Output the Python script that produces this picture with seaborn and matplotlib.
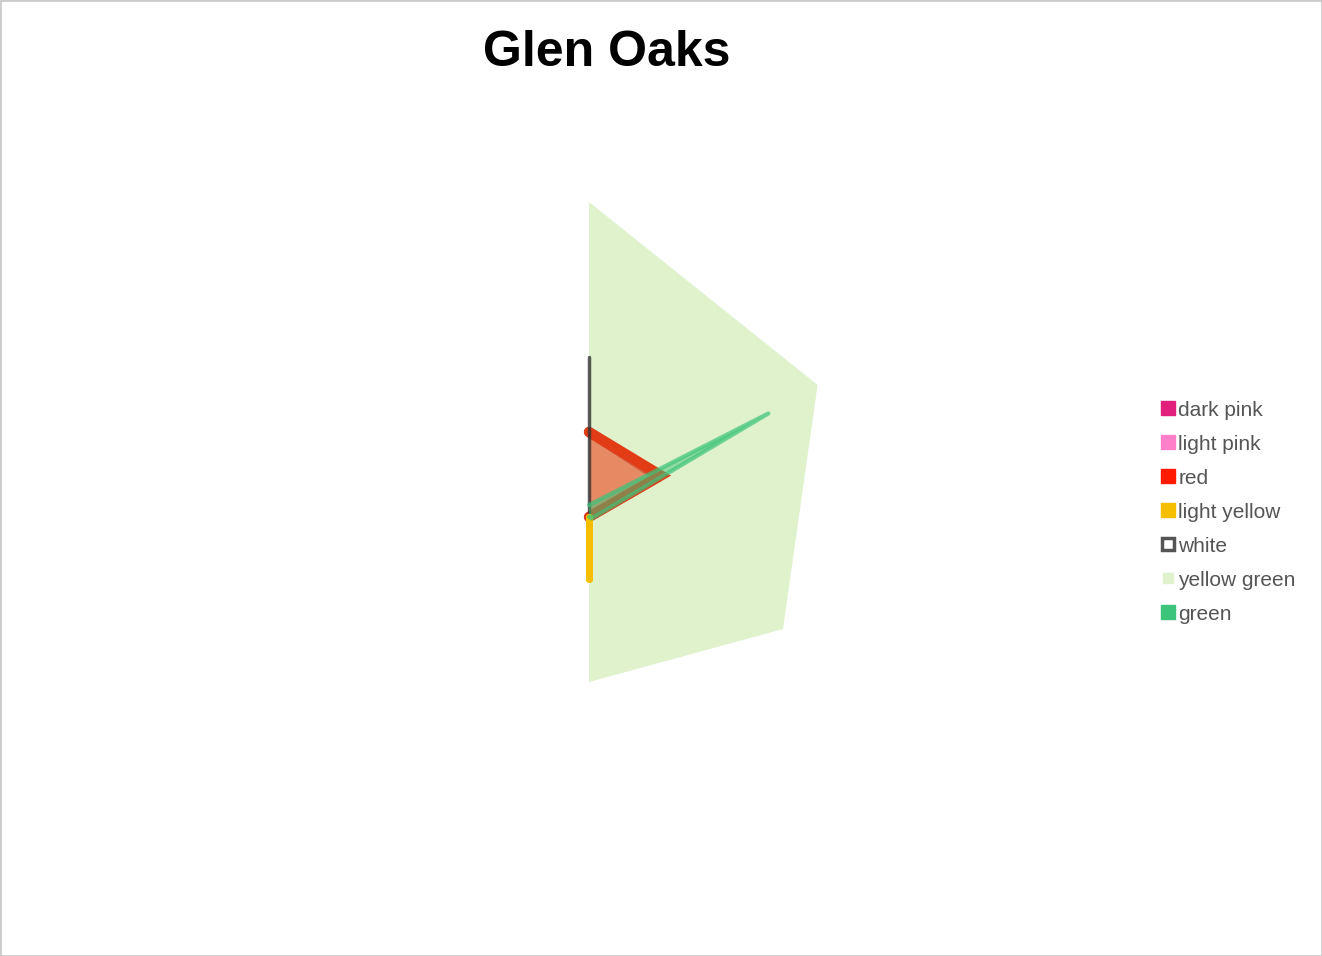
import numpy as np
import matplotlib
matplotlib.use("Agg")
import matplotlib.pyplot as plt
from matplotlib.lines import Line2D
from matplotlib.patches import Rectangle
import seaborn as sns

# --- dados ---
categorias = ["c1", "c2", "c3", "c4", "c5", "c6"]
series = ["dark pink", "light pink", "red", "light yellow", "white", "yellow green", "green"]
dark_pink = [17, 16, 0, 0, 0, 0]
light_pink = [0, 0, 0, 0, 0, 0]
red = [17, 16.6, 0, 0, 0, 0]
light_yellow = [0, 0, 0, 12.4, 0, 0]
white = [32, 0, 0, 0, 0, 0]
yellow_green = [63, 52.8, 44.8, 33, 0, 0]
green = [2.4, 41.4, 0.6, 0, 0, 0]

cores = {
    "dark pink": "#e0207a",
    "light pink": "#ff80c8",
    "red": "#ff1a00",
    "light yellow": "#f5bf00",
    "white": "#555555",
    "yellow green": "#dff2cc",
    "green": "#3cc47a",
}

sns.set_theme(style="white")
plt.rcParams["font.family"] = ["Liberation Sans", "DejaVu Sans"]

fig = plt.figure(figsize=(13.22, 9.56), dpi=100)
ax = fig.add_axes([189 / 1322, 39 / 956, 800 / 1322, 800 / 956], projection="polar")
ax.set_theta_offset(np.pi / 2)
ax.set_theta_direction(-1)

angulos = np.linspace(0, 2 * np.pi, len(categorias), endpoint=False)
ang_fechado = np.concatenate([angulos, angulos[:1]])


def fechar(v):
    return np.concatenate([v, v[:1]])


# fundo: yellow green só preenchimento
ax.fill(ang_fechado, fechar(yellow_green), color=cores["yellow green"], lw=0, zorder=1)

# dark pink / light pink (quase escondidos)
sns.lineplot(x=ang_fechado, y=fechar(dark_pink), sort=False, ax=ax, color="#8a1010", lw=7, zorder=2)
sns.lineplot(x=ang_fechado, y=fechar(light_pink), sort=False, ax=ax, color=cores["light pink"], lw=3, zorder=2)

# red
ax.fill(ang_fechado, fechar(red), color="#e8704a", alpha=0.8, lw=0, zorder=3)
r = sns.lineplot(x=ang_fechado, y=fechar(red), sort=False, ax=ax, color="#e23c17", lw=7.5, zorder=3)
r.lines[-1].set_solid_joinstyle("miter")

# white
sns.lineplot(x=ang_fechado, y=fechar(white), sort=False, ax=ax, color="#333333", lw=2.5, alpha=0.8, zorder=4)

# light yellow
l = sns.lineplot(x=ang_fechado, y=fechar(light_yellow), sort=False, ax=ax, color=cores["light yellow"], lw=5, zorder=4)
l.lines[-1].set_solid_capstyle("round")

# green
ax.fill(ang_fechado, fechar(green), color=cores["green"], alpha=0.5, lw=0, zorder=5)
sns.lineplot(x=ang_fechado, y=fechar(green), sort=False, ax=ax, color=cores["green"], lw=3, alpha=0.7, zorder=5)

ax.set_ylim(0, 80)
ax.set_xticks([])
ax.set_yticks([])
ax.grid(False)
ax.spines["polar"].set_visible(False)
ax.set_facecolor("none")
if ax.get_legend():
    ax.get_legend().remove()

fig.text(607 / 1322, 1 - 53 / 956, "Glen Oaks", ha="center", va="center",
         fontsize=36, fontweight="bold", color="black")

# legenda
handles = []
for s in series:
    if s == "white":
        h = Line2D([], [], ls="", marker="s", markersize=8, markerfacecolor="white",
                   markeredgecolor="#555555", markeredgewidth=2.5)
    elif s == "yellow green":
        h = Line2D([], [], ls="", marker="s", markersize=7, markerfacecolor=cores[s],
                   markeredgecolor=cores[s])
    else:
        h = Line2D([], [], ls="", marker="s", markersize=10, markerfacecolor=cores[s],
                   markeredgecolor=cores[s])
    handles.append(h)

fig.legend(handles, series, loc="center left", bbox_to_anchor=(1149 / 1322, 1 - 512 / 956),
           frameon=False, fontsize=15, labelcolor="#555555", handlelength=0.8,
           handletextpad=0.1, labelspacing=0.72, borderpad=0)

fig.patches.append(Rectangle((0, 0), 1, 1, transform=fig.transFigure, fill=False,
                             edgecolor="#cccccc", lw=2))

fig.savefig("out.png", dpi=100)
